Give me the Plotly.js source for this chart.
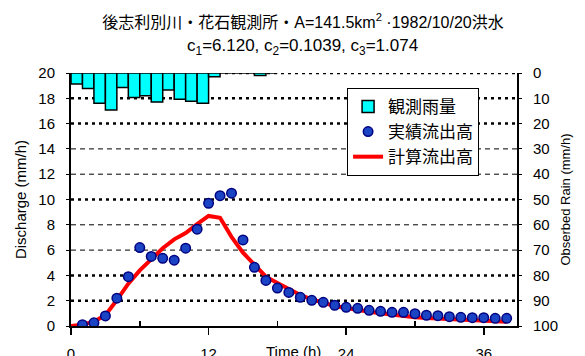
<!DOCTYPE html>
<html>
<head>
<meta charset="utf-8">
<script src="https://cdn.plot.ly/plotly-3.0.1.min.js"></script>
<style>html,body{margin:0;padding:0;background:#fff;}#chart{width:585px;height:356px;}</style>
</head>
<body>
<div id="chart"></div>
<script>
// Rain (hourly bars, mm/h), centre of each hour
const rainTime = [0.5,1.5,2.5,3.5,4.5,5.5,6.5,7.5,8.5,9.5,10.5,11.5,12.5,13.5,14.5,15.5,16.5,17.5];
const rainObs  = [4.3,6.1,12,14.6,5.7,9.7,9,11.5,6.7,10.4,11.2,12,1.5,0,0,0,1,0];

// Observed discharge (mm/h)
const obsTime = [1,2,3,4,5,6,7,8,9,10,11,12,13,14,15,16,17,18,19,20,21,22,23,24,25,26,27,28,29,30,31,32,33,34,35,36,37,38];
const obsQ    = [0.1,0.25,0.8,2.2,3.9,6.2,5.5,5.35,5.2,6.15,7.65,9.7,10.3,10.5,6.8,4.64,3.6,3.0,2.65,2.27,2.03,1.87,1.64,1.48,1.4,1.24,1.16,1.08,1.08,0.97,0.85,0.82,0.74,0.69,0.66,0.66,0.61,0.61];

// Calculated discharge (mm/h)
const calcTime = [0,1,2,3,4,5,6,7,8,9,10,11,12,13,14,15,16,17,18,19,20,21,22,23,24,25,26,27,28,29,30,31,32,33,34,35,36,37,38];
const calcQ    = [0,0.1,0.35,0.85,2.05,3.35,4.4,5.25,6.15,6.85,7.35,8.05,8.7,8.55,7.05,5.8,4.9,3.9,3.4,2.9,2.45,2.1,1.8,1.58,1.42,1.25,1.12,1.0,0.88,0.76,0.7,0.64,0.6,0.55,0.5,0.46,0.42,0.38,0.34];

// Axis ticks
const xTickVals = [0,12,24,36];
const xMinorVals = [6,18,30];
const yTickVals = [0,2,4,6,8,10,12,14,16,18,20];
const y2TickVals = [0,10,20,30,40,50,60,70,80,90,100];
const gridDot = [2,4,10,16,18,20];
const gridDash = [6,8,12,14];

const names = ['観測雨量','実績流出高','計算流出高'];
const titleLine1 = '後志利別川・花石観測所・A=141.5km<sup>2</sup> ·1982/10/20洪水';
const titleLine2 = 'c<sub>1</sub>=6.120, c<sub>2</sub>=0.1039, c<sub>3</sub>=1.074';

const FONT = '"Liberation Sans", Arial, "Noto Sans CJK JP", sans-serif';
const CJK = '"Noto Sans CJK JP", "Liberation Sans", sans-serif';

const traces = [
  {type:'bar', name:names[0], x:rainTime, y:rainObs, yaxis:'y2', width:1,
   marker:{color:'#00ffff', line:{color:'#000', width:1.5}}, legendrank:1},
  {type:'scatter', mode:'lines', name:names[2], x:calcTime, y:calcQ,
   line:{color:'#ff0000', width:4}, legendrank:3},
  {type:'scatter', mode:'markers', name:names[1], x:obsTime, y:obsQ,
   marker:{color:'#1a44c4', size:9.5, line:{color:'#000080', width:1.5}}, legendrank:2}
];

const shapes = [];
gridDot.forEach(v => shapes.push({type:'line', xref:'paper', x0:0, x1:1, yref:'y', y0:v, y1:v, layer:'below',
  line:{color:'#000', width:2.5, dash:'3px,4px'}}));
gridDash.forEach(v => shapes.push({type:'line', xref:'paper', x0:0, x1:1, yref:'y', y0:v, y1:v, layer:'below',
  line:{color:'#000', width:1, dash:'5px,4px'}}));

const layout = {
  width:585, height:356,
  margin:{l:71, r:68, t:73, b:30, pad:0},
  paper_bgcolor:'#fff', plot_bgcolor:'#fff',
  font:{family:FONT, color:'#000', size:15},
  showlegend:true,
  bargap:0,
  title:{text:titleLine1, x:0.518, xanchor:'center', y:1-22/356, yanchor:'middle', yref:'container',
         font:{family:FONT, size:16, color:'#000'}},
  xaxis:{range:[0,38.9], tickvals:xTickVals, ticktext:xTickVals.map(String), ticks:'outside', ticklen:7, tickwidth:1.5, tickcolor:'#000',
         minor:{tickvals:xMinorVals, ticks:'inside', ticklen:5, tickwidth:1.5, tickcolor:'#000'},
         showline:true, linecolor:'#000', linewidth:2, showgrid:false, zeroline:false,
         ticklabelstandoff:6, tickfont:{size:15, family:FONT}},
  yaxis:{range:[0,20], tickvals:yTickVals, ticks:'outside', ticklen:3, tickcolor:'#000',
         showline:true, linecolor:'#000', linewidth:2, showgrid:false, zeroline:false,
         ticklabelstandoff:8, tickfont:{size:15, family:FONT},
         title:{text:'Discharge (mm/h)', font:{size:15, family:FONT}, standoff:8}},
  yaxis2:{overlaying:'y', side:'right', range:[100,0], tickvals:y2TickVals, ticks:'outside', ticklen:3, tickcolor:'#000',
         showline:true, linecolor:'#000', linewidth:2, showgrid:false, zeroline:false,
         ticklabelstandoff:8, tickfont:{size:15, family:FONT},
         title:{text:'Obserbed Rain (mm/h)', font:{size:13, family:FONT}, standoff:4}},
  legend:{x:0.619, y:0.941, xanchor:'left', yanchor:'top', bgcolor:'#fff', bordercolor:'#000', borderwidth:1,
          font:{family:CJK, size:17, color:'#000'}, traceorder:'normal', itemwidth:30, tracegroupgap:0},
  shapes:shapes,
  annotations:[
    {text:titleLine2, xref:'paper', yref:'paper', x:0.52, y:(326-47)/253, xanchor:'center', yanchor:'middle',
     showarrow:false, font:{family:FONT, size:17}},
    {text:'Time (h)', xref:'paper', yref:'paper', x:0.498, y:(326-351)/253, xanchor:'center', yanchor:'middle',
     showarrow:false, font:{family:FONT, size:15}}
  ]
};

Plotly.newPlot('chart', traces, layout, {displayModeBar:false, staticPlot:true});
</script>
</body>
</html>
